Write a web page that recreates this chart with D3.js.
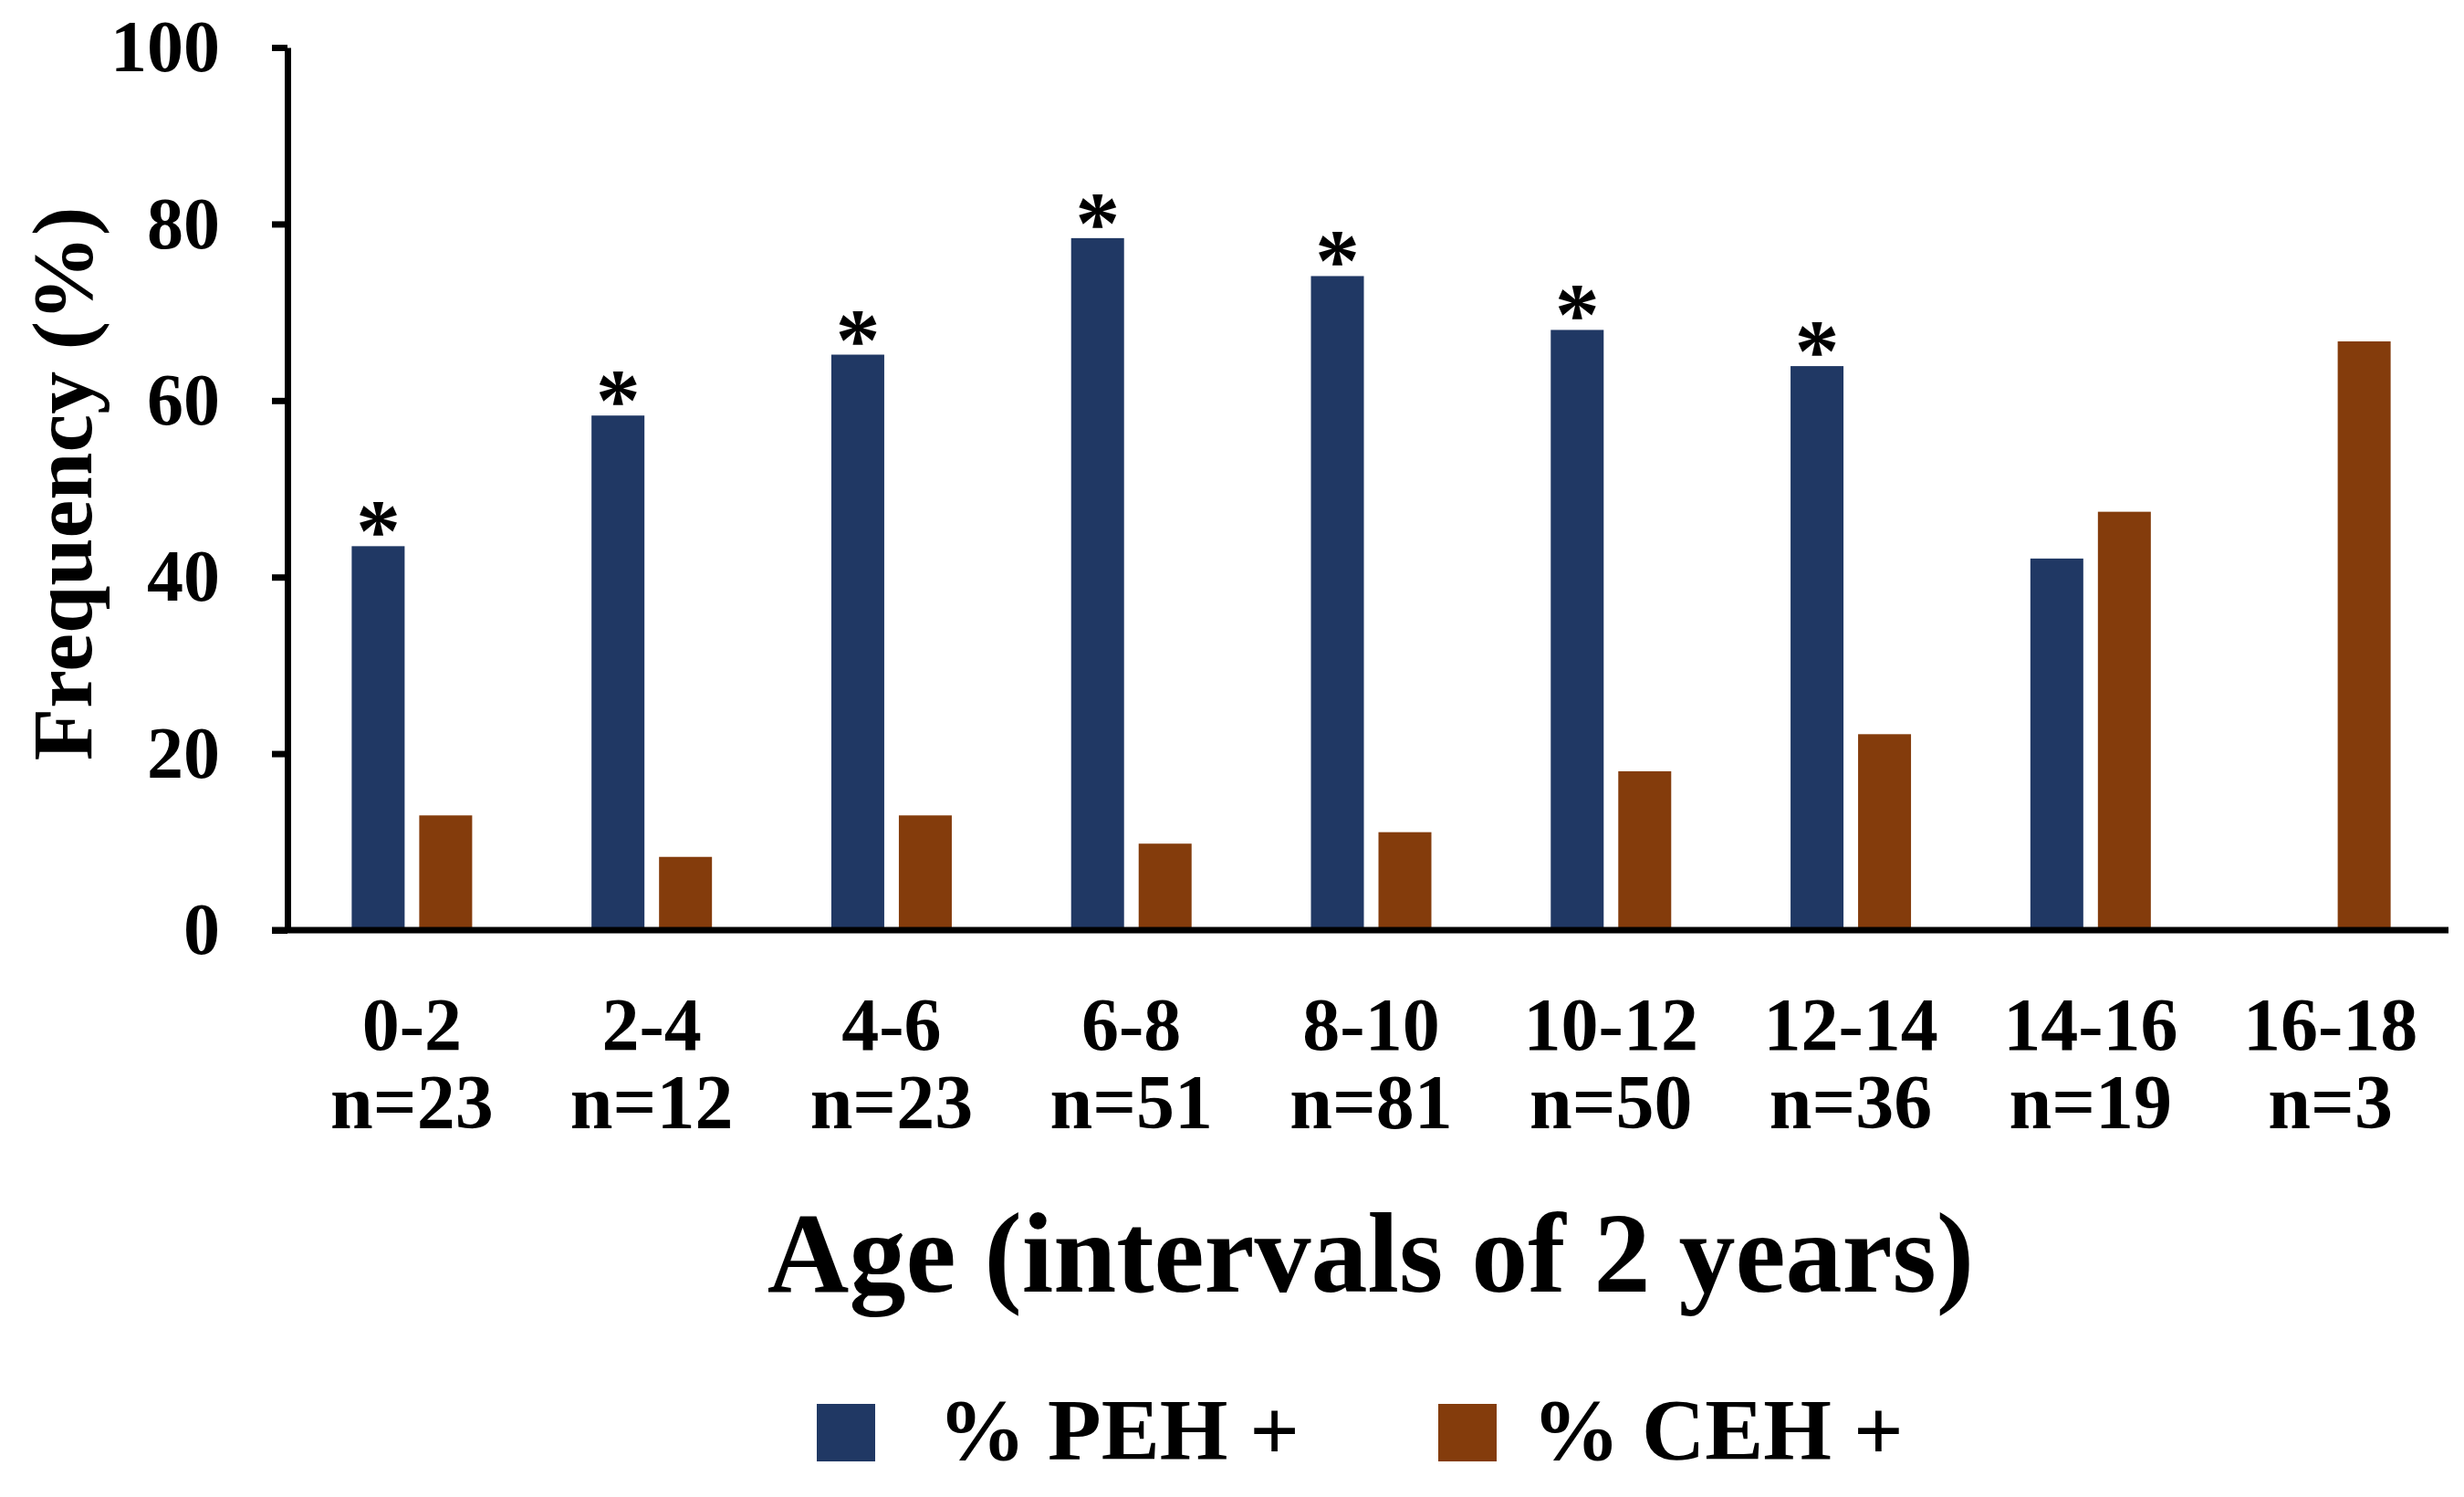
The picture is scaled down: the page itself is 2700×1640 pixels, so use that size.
<!DOCTYPE html>
<html><head><meta charset="utf-8">
<script src="https://cdn.jsdelivr.net/npm/d3@7"></script>
<style>
html,body{margin:0;padding:0;background:#fff;}
svg{display:block;}
text{font-family:"Liberation Serif","Times New Roman",serif;font-weight:bold;fill:#000;}
</style></head>
<body>
<svg id="chart" width="2700" height="1640"></svg>
<script>
const categories = ["0-2","2-4","4-6","6-8","8-10","10-12","12-14","14-16","16-18"];
const sampleSizes = ["n=23","n=12","n=23","n=51","n=81","n=50","n=36","n=19","n=3"];
const pehValues = [43.5, 58.3, 65.2, 78.4, 74.1, 68.0, 63.9, 42.1, 0];
const cehValues = [13.0, 8.3, 13.0, 9.8, 11.1, 18.0, 22.2, 47.4, 66.7];
const significant = [true, true, true, true, true, true, true, false, false];
const yTicks = [0, 20, 40, 60, 80, 100];
const seriesNames = ["% PEH +", "% CEH +"];
const seriesColors = ["#203864", "#843C0C"];

(function(){
const svg = d3.select("#chart");
const mLeft = 315, mRight = 2683, mTop = 52, mBottom = 1019;
const tickLen = 17;

const x = d3.scaleBand().domain(categories).range([mLeft, 2680]).paddingInner(0).paddingOuter(0);
const y = d3.scaleLinear().domain([0, 100]).range([mBottom, mTop]);
const barW = 58;
const barGap = 16;

const rows = categories.map((c, i) => ({c, i, peh: pehValues[i], ceh: cehValues[i], n: sampleSizes[i], sig: significant[i]}));

const g = svg.append("g");
rows.forEach(r => {
  const cx = x(r.c) + x.bandwidth() / 2 + 5;
  if (r.peh > 0) {
    g.append("rect").attr("x", cx - barGap/2 - barW).attr("y", y(r.peh))
      .attr("width", barW).attr("height", y(0) - y(r.peh)).attr("fill", seriesColors[0]);
  }
  if (r.ceh > 0) {
    g.append("rect").attr("x", cx + barGap/2).attr("y", y(r.ceh))
      .attr("width", barW).attr("height", y(0) - y(r.ceh)).attr("fill", seriesColors[1]);
  }
  if (r.sig) {
    g.append("text").attr("x", cx - barGap/2 - barW/2).attr("y", y(r.peh) + 16)
      .attr("text-anchor", "middle").style("font-size", "98px").text("*");
  }
  g.append("text").attr("x", cx).attr("y", 1150).attr("text-anchor", "middle")
    .style("font-size", "82px").text(r.c);
  g.append("text").attr("x", cx).attr("y", 1236).attr("text-anchor", "middle")
    .style("font-size", "84px").text(r.n);
});

const yAxis = d3.axisLeft(y).tickValues(yTicks).tickSize(tickLen).tickSizeOuter(0).tickPadding(57);
const ya = svg.append("g").attr("transform", `translate(${mLeft},0)`).call(yAxis);
ya.select(".domain").attr("stroke", "#000").attr("stroke-width", 7);
ya.selectAll(".tick line").attr("stroke", "#000").attr("stroke-width", 7);
ya.selectAll(".tick text").style("font-size", "80px").attr("fill", "#000")
  .style("font-family", '"Liberation Serif","Times New Roman",serif').style("font-weight", "bold");

svg.append("line").attr("x1", mLeft - tickLen).attr("x2", mRight).attr("y1", y(0)).attr("y2", y(0))
  .attr("stroke", "#000").attr("stroke-width", 7);

svg.append("text").attr("transform", `translate(100,530) rotate(-90)`).attr("text-anchor", "middle")
  .style("font-size", "94px").text("Frequency (%)");
svg.append("text").attr("x", 1502).attr("y", 1415).attr("text-anchor", "middle")
  .style("font-size", "124px").text("Age (intervals of 2 years)");

const legendX = [895, 1576];
const legendTextX = [1028, 1679];
seriesNames.forEach((s, i) => {
  svg.append("rect").attr("x", legendX[i]).attr("y", 1538).attr("width", 64).attr("height", 63)
    .attr("fill", seriesColors[i]);
  svg.append("text").attr("x", legendTextX[i]).attr("y", 1599).style("font-size", "96px").text(s);
});
})();
</script>
</body></html>
